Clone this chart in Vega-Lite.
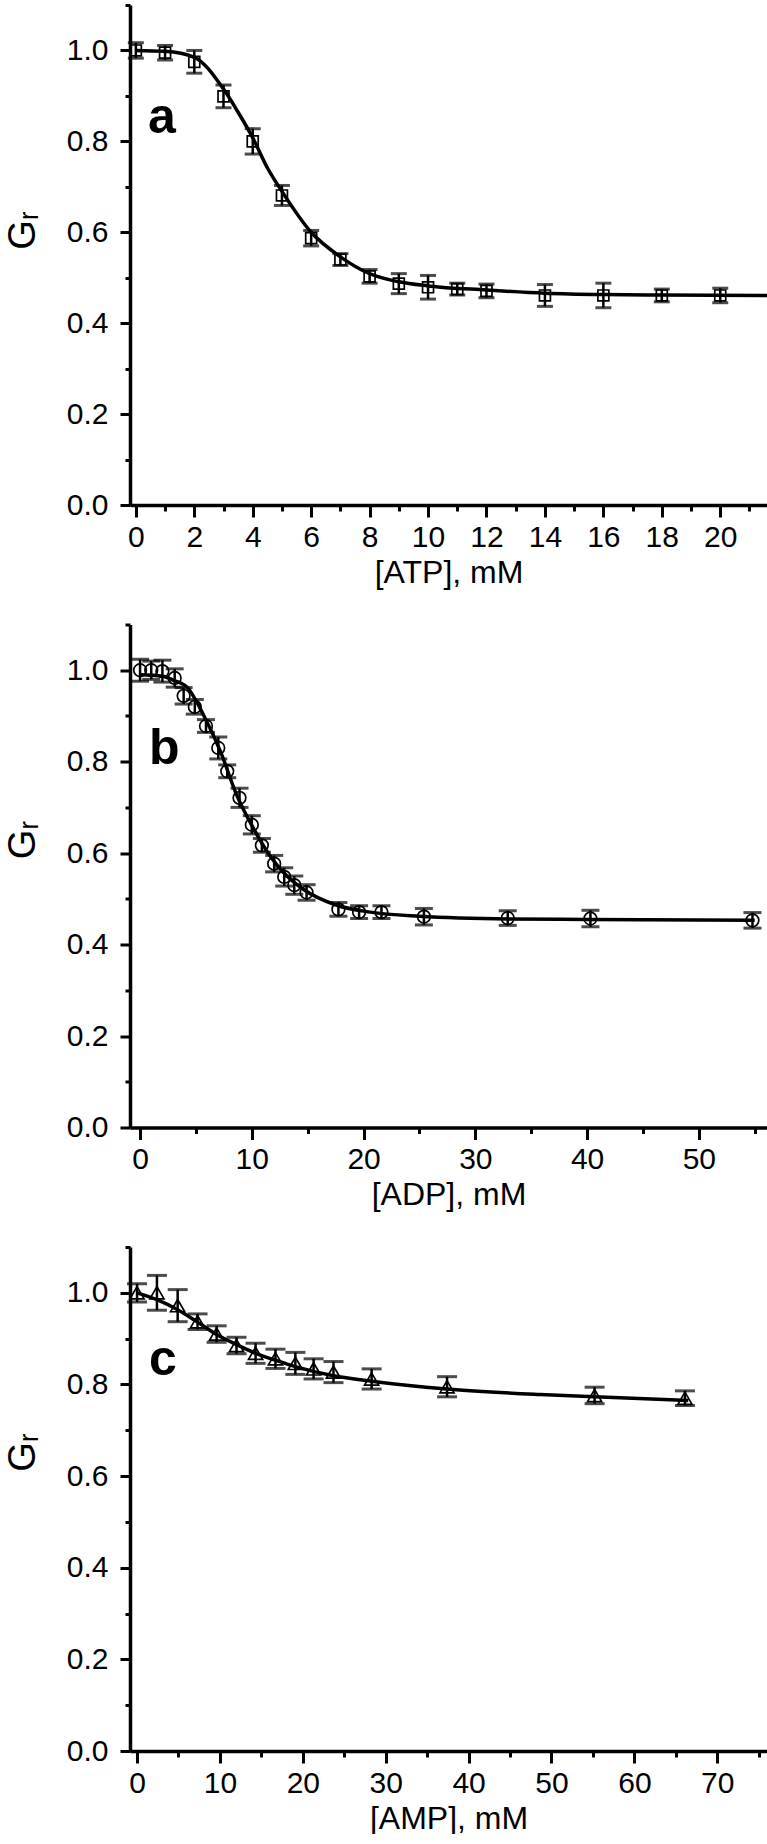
{
  "$schema": "https://vega.github.io/schema/vega-lite/v6.json",
  "padding": {"left": 4, "top": 3, "right": 0, "bottom": 0},
  "background": "white",
  "spacing": 34.5,
  "config": {
    "view": {"stroke": null},
    "axis": {
      "grid": false,
      "domainColor": "black",
      "domainWidth": 3.5,
      "tickColor": "black",
      "tickWidth": 3,
      "labelColor": "black",
      "titleColor": "black",
      "labelFont": "Liberation Sans",
      "titleFont": "Liberation Sans",
      "titleFontWeight": "normal",
      "labelFlush": false,
      "labelOverlap": false
    },
    "axisY": {"labelPadding": 12, "titlePadding": 24, "titleFontSize": 38},
    "axisX": {"labelPadding": 5, "titlePadding": 5, "titleFontSize": 32}
  },
  "datasets": {
    "atp_pts": [
      {"x": 0, "y": 1.0, "e": 0.017},
      {"x": 1, "y": 0.995, "e": 0.016},
      {"x": 2, "y": 0.975, "e": 0.025},
      {"x": 3, "y": 0.899, "e": 0.025},
      {"x": 4, "y": 0.8, "e": 0.028},
      {"x": 5, "y": 0.681, "e": 0.022},
      {"x": 6, "y": 0.587, "e": 0.017},
      {"x": 7, "y": 0.54, "e": 0.013},
      {"x": 8, "y": 0.503, "e": 0.015},
      {"x": 9, "y": 0.487, "e": 0.022},
      {"x": 10, "y": 0.479, "e": 0.026},
      {"x": 11, "y": 0.475, "e": 0.013},
      {"x": 12, "y": 0.471, "e": 0.015},
      {"x": 14, "y": 0.461, "e": 0.024},
      {"x": 16, "y": 0.461, "e": 0.027},
      {"x": 18, "y": 0.461, "e": 0.014},
      {"x": 20, "y": 0.461, "e": 0.016}
    ],
    "atp_fit": [
      {"x": 0, "y": 1.0},
      {"x": 1, "y": 0.998},
      {"x": 2, "y": 0.985},
      {"x": 3, "y": 0.915},
      {"x": 3.5, "y": 0.864},
      {"x": 4, "y": 0.808},
      {"x": 4.5, "y": 0.742},
      {"x": 5, "y": 0.69},
      {"x": 6, "y": 0.6},
      {"x": 7, "y": 0.546},
      {"x": 8, "y": 0.509},
      {"x": 9, "y": 0.491},
      {"x": 10, "y": 0.482},
      {"x": 12, "y": 0.473},
      {"x": 14, "y": 0.466},
      {"x": 16, "y": 0.463},
      {"x": 18, "y": 0.462},
      {"x": 21.6, "y": 0.461}
    ],
    "adp_pts": [
      {"x": 0, "y": 1.0, "e": 0.024},
      {"x": 1, "y": 1.0, "e": 0.02},
      {"x": 2, "y": 0.998, "e": 0.024},
      {"x": 3.1, "y": 0.983, "e": 0.02},
      {"x": 3.9, "y": 0.944, "e": 0.018},
      {"x": 4.9, "y": 0.92, "e": 0.016},
      {"x": 5.9, "y": 0.878, "e": 0.014},
      {"x": 7, "y": 0.83, "e": 0.024},
      {"x": 7.8, "y": 0.779, "e": 0.014},
      {"x": 8.9, "y": 0.721, "e": 0.021},
      {"x": 10, "y": 0.662, "e": 0.02},
      {"x": 10.9, "y": 0.617, "e": 0.015},
      {"x": 12, "y": 0.577, "e": 0.018},
      {"x": 12.9, "y": 0.548, "e": 0.02},
      {"x": 13.8, "y": 0.53, "e": 0.02},
      {"x": 14.9, "y": 0.514, "e": 0.017},
      {"x": 17.75, "y": 0.477, "e": 0.015},
      {"x": 19.6, "y": 0.471, "e": 0.014},
      {"x": 21.6, "y": 0.471, "e": 0.014},
      {"x": 25.4, "y": 0.461, "e": 0.018},
      {"x": 32.9, "y": 0.458, "e": 0.016},
      {"x": 40.3, "y": 0.457, "e": 0.018},
      {"x": 54.8, "y": 0.453, "e": 0.017}
    ],
    "adp_fit": [
      {"x": 0, "y": 0.99},
      {"x": 2, "y": 0.987},
      {"x": 3, "y": 0.978},
      {"x": 4.2, "y": 0.963},
      {"x": 5.7, "y": 0.901},
      {"x": 7.2, "y": 0.822},
      {"x": 8.65, "y": 0.727},
      {"x": 10.15, "y": 0.654},
      {"x": 11.6, "y": 0.595},
      {"x": 13.1, "y": 0.551},
      {"x": 14.6, "y": 0.521},
      {"x": 17.6, "y": 0.486},
      {"x": 20.6, "y": 0.471},
      {"x": 25, "y": 0.462},
      {"x": 33, "y": 0.456},
      {"x": 40, "y": 0.455},
      {"x": 55, "y": 0.453}
    ],
    "amp_pts": [
      {"x": 0, "y": 1.0, "e": 0.02},
      {"x": 2.4, "y": 1.0, "e": 0.038},
      {"x": 4.9, "y": 0.972, "e": 0.035},
      {"x": 7.3, "y": 0.937, "e": 0.017},
      {"x": 9.6, "y": 0.91, "e": 0.018},
      {"x": 12, "y": 0.885, "e": 0.018},
      {"x": 14.3, "y": 0.868, "e": 0.022},
      {"x": 16.7, "y": 0.856, "e": 0.021},
      {"x": 19.1, "y": 0.846, "e": 0.024},
      {"x": 21.3, "y": 0.834, "e": 0.022},
      {"x": 23.7, "y": 0.827, "e": 0.023},
      {"x": 28.3, "y": 0.812, "e": 0.022},
      {"x": 37.4, "y": 0.795, "e": 0.022},
      {"x": 55.2, "y": 0.776, "e": 0.018},
      {"x": 66.1, "y": 0.77, "e": 0.016}
    ],
    "amp_fit": [
      {"x": 0, "y": 1.0},
      {"x": 2.4, "y": 0.985},
      {"x": 4.9, "y": 0.963},
      {"x": 7.3, "y": 0.936},
      {"x": 9.6, "y": 0.909},
      {"x": 12, "y": 0.887},
      {"x": 14.3, "y": 0.868},
      {"x": 16.7, "y": 0.853},
      {"x": 19.1, "y": 0.839},
      {"x": 23.7, "y": 0.819},
      {"x": 28.3, "y": 0.807},
      {"x": 37.4, "y": 0.79},
      {"x": 48.6, "y": 0.778},
      {"x": 55.2, "y": 0.773},
      {"x": 66.5, "y": 0.765}
    ]
  },
  "vconcat": [
    {
      "width": 637,
      "height": 500,
      "encoding": {
        "x": {
          "field": "x", "type": "quantitative", "title": "[ATP], mM",
          "scale": {"domain": [-0.2, 21.6], "nice": false, "zero": false},
          "axis": {
            "values": [0,1,2,3,4,5,6,7,8,9,10,11,12,13,14,15,16,17,18,19,20,21],
            "labelExpr": "datum.value % 2 == 0 ? datum.label : ''",
            "labelFontSize": {"condition": {"test": "datum.value % 2 != 0", "value": 1}, "value": 30},
            "tickSize": {"condition": {"test": "datum.value % 2 == 0", "value": 12}, "value": 6}
          }
        },
        "y": {
          "field": "y", "type": "quantitative", "title": "Gᵣ",
          "scale": {"domain": [0, 1.1], "nice": false},
          "axis": {
            "values": [0,0.1,0.2,0.3,0.4,0.5,0.6,0.7,0.8,0.9,1.0,1.1],
            "titleY": 225,
            "labelExpr": "round(datum.value*10) % 2 == 0 ? format(datum.value, '.1f') : ''",
            "labelFontSize": {"condition": {"test": "round(datum.value*10) % 2 != 0", "value": 1}, "value": 30},
            "tickSize": {"condition": {"test": "round(datum.value*10) % 2 == 0", "value": 10}, "value": 5}
          }
        }
      },
      "layer": [
        {"data": {"name": "atp_fit"}, "mark": {"type": "line", "color": "black", "strokeWidth": 3.5, "interpolate": "monotone"}},
        {"data": {"name": "atp_pts"}, "mark": {"type": "errorbar", "color": "black", "thickness": 2.5, "ticks": {"size": 16, "thickness": 3, "color": "black"}}, "encoding": {"yError": {"field": "e"}}},
        {"data": {"name": "atp_pts"}, "mark": {"type": "point", "shape": "square", "filled": false, "stroke": "black", "strokeWidth": 1.7, "size": 120, "opacity": 1}},
        {"data": {"values": [{"x": 0.42, "y": 0.818, "label": "a"}]}, "mark": {"type": "text", "font": "Liberation Sans", "fontSize": 50, "fontWeight": "bold", "align": "left", "baseline": "alphabetic", "color": "black"}, "encoding": {"text": {"field": "label"}}}
      ]
    },
    {
      "width": 637,
      "height": 503,
      "encoding": {
        "x": {
          "field": "x", "type": "quantitative", "title": "[ADP], mM",
          "scale": {"domain": [-0.9, 56.1], "nice": false, "zero": false},
          "axis": {
            "values": [0,5,10,15,20,25,30,35,40,45,50,55],
            "labelExpr": "datum.value % 10 == 0 ? datum.label : ''",
            "labelFontSize": {"condition": {"test": "datum.value % 10 != 0", "value": 1}, "value": 30},
            "tickSize": {"condition": {"test": "datum.value % 10 == 0", "value": 12}, "value": 6}
          }
        },
        "y": {
          "field": "y", "type": "quantitative", "title": "Gᵣ",
          "scale": {"domain": [0, 1.1], "nice": false},
          "axis": {
            "values": [0,0.1,0.2,0.3,0.4,0.5,0.6,0.7,0.8,0.9,1.0,1.1],
            "titleY": 215,
            "labelExpr": "round(datum.value*10) % 2 == 0 ? format(datum.value, '.1f') : ''",
            "labelFontSize": {"condition": {"test": "round(datum.value*10) % 2 != 0", "value": 1}, "value": 30},
            "tickSize": {"condition": {"test": "round(datum.value*10) % 2 == 0", "value": 10}, "value": 5}
          }
        }
      },
      "layer": [
        {"data": {"name": "adp_fit"}, "mark": {"type": "line", "color": "black", "strokeWidth": 3.5, "interpolate": "monotone"}},
        {"data": {"name": "adp_pts"}, "mark": {"type": "errorbar", "color": "black", "thickness": 2.5, "ticks": {"size": 18, "thickness": 3, "color": "black"}}, "encoding": {"yError": {"field": "e"}}},
        {"data": {"name": "adp_pts"}, "mark": {"type": "point", "shape": "circle", "filled": false, "stroke": "black", "strokeWidth": 1.7, "size": 160, "opacity": 1}},
        {"data": {"values": [{"x": 0.8, "y": 0.796, "label": "b"}]}, "mark": {"type": "text", "font": "Liberation Sans", "fontSize": 50, "fontWeight": "bold", "align": "left", "baseline": "alphabetic", "color": "black"}, "encoding": {"text": {"field": "label"}}}
      ]
    },
    {
      "width": 637,
      "height": 504,
      "encoding": {
        "x": {
          "field": "x", "type": "quantitative", "title": "[AMP], mM",
          "scale": {"domain": [-0.85, 76], "nice": false, "zero": false},
          "axis": {
            "values": [0,5,10,15,20,25,30,35,40,45,50,55,60,65,70,75],
            "labelExpr": "datum.value % 10 == 0 ? datum.label : ''",
            "labelFontSize": {"condition": {"test": "datum.value % 10 != 0", "value": 1}, "value": 30},
            "tickSize": {"condition": {"test": "datum.value % 10 == 0", "value": 12}, "value": 6}
          }
        },
        "y": {
          "field": "y", "type": "quantitative", "title": "Gᵣ",
          "scale": {"domain": [0, 1.1], "nice": false},
          "axis": {
            "values": [0,0.1,0.2,0.3,0.4,0.5,0.6,0.7,0.8,0.9,1.0,1.1],
            "titleY": 205,
            "labelExpr": "round(datum.value*10) % 2 == 0 ? format(datum.value, '.1f') : ''",
            "labelFontSize": {"condition": {"test": "round(datum.value*10) % 2 != 0", "value": 1}, "value": 30},
            "tickSize": {"condition": {"test": "round(datum.value*10) % 2 == 0", "value": 10}, "value": 5}
          }
        }
      },
      "layer": [
        {"data": {"name": "amp_fit"}, "mark": {"type": "line", "color": "black", "strokeWidth": 3.5, "interpolate": "monotone"}},
        {"data": {"name": "amp_pts"}, "mark": {"type": "errorbar", "color": "black", "thickness": 2.5, "ticks": {"size": 20, "thickness": 3, "color": "black"}}, "encoding": {"yError": {"field": "e"}}},
        {"data": {"name": "amp_pts"}, "mark": {"type": "point", "shape": "triangle-up", "filled": false, "stroke": "black", "strokeWidth": 1.7, "size": 200, "opacity": 1}},
        {"data": {"values": [{"x": 1.45, "y": 0.82, "label": "c"}]}, "mark": {"type": "text", "font": "Liberation Sans", "fontSize": 50, "fontWeight": "bold", "align": "left", "baseline": "alphabetic", "color": "black"}, "encoding": {"text": {"field": "label"}}}
      ]
    }
  ]
}
